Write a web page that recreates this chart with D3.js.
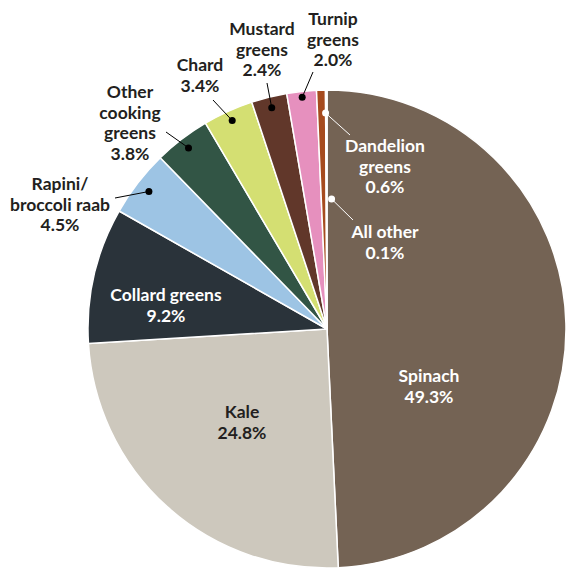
<!DOCTYPE html>
<html>
<head>
<meta charset="utf-8">
<script src="https://cdn.jsdelivr.net/npm/d3@7"></script>
<style>
  html, body { margin: 0; padding: 0; background: #fff; }
  svg { display: block; }
  text { font-family: Lato, "Noto Sans", sans-serif; font-weight: 700; font-size: 17.5px; }
</style>
</head>
<body>
<svg id="chart" width="566" height="573"></svg>
<script>
// Share of leafy greens, clockwise from 12 o'clock
const categories = ["Spinach", "Kale", "Collard greens", "Rapini/broccoli raab", "Other cooking greens",
                    "Chard", "Mustard greens", "Turnip greens", "Dandelion greens", "All other"];
const shares = [49.3, 24.8, 9.2, 4.5, 3.8, 3.4, 2.4, 2.0, 0.6, 0.1];
// Label lines as printed (last line is the value)
const labelLines = [
  ["Spinach"], ["Kale"], ["Collard greens"], ["Rapini/", "broccoli raab"], ["Other", "cooking", "greens"],
  ["Chard"], ["Mustard", "greens"], ["Turnip", "greens"], ["Dandelion", "greens"], ["All other"]
];

const colors = ["#746354", "#cdc8bd", "#2a333a", "#9dc4e4", "#325545",
                "#d4df72", "#61372a", "#e690be", "#a64b1e", "#e3a12a"];

// Label layout: text anchor (first baseline), dot radius, leader end
const layout = [
  { x: 429, y: 382, inside: true, fill: "#fff" },
  { x: 242, y: 418, inside: true, fill: "#231f20" },
  { x: 166, y: 301, inside: true, fill: "#fff" },
  { x: 60,  y: 190, dotR: 225, lx: 115, ly: 198, fill: "#231f20", dot: "#000" },
  { x: 130, y: 98,  dotR: 228, lx: 166, ly: 132, fill: "#231f20", dot: "#000" },
  { x: 200, y: 71,  dotR: 229, lx: 213, ly: 100, fill: "#231f20", dot: "#000" },
  { x: 262, y: 35,  dotR: 228, lx: 267, ly: 83,  fill: "#231f20", dot: "#000" },
  { x: 333, y: 25,  dotR: 233, lx: 313, ly: 72,  fill: "#231f20", dot: "#000" },
  { x: 385, y: 152, dotR: 216, dotDx: 4, lx: 350, ly: 135, fill: "#fff", dot: "#fff" },
  { x: 385, y: 238, dotR: 130, dotDx: 5, lx: 353, ly: 220, fill: "#fff", dot: "#fff" }
];

const cx = 327, cy = 329, radius = 239, lineH = 20.5;

const svg = d3.select("#chart");
const g = svg.append("g").attr("transform", `translate(${cx},${cy})`);

const pie = d3.pie().sort(null).value(d => d.value).startAngle(0).endAngle(2 * Math.PI);
const arcs = pie(categories.map((c, i) => ({ name: c, value: shares[i], i })));
const arc = d3.arc().innerRadius(0).outerRadius(radius);

g.selectAll("path.slice")
  .data(arcs)
  .join("path")
  .attr("class", "slice")
  .attr("d", arc)
  .attr("fill", d => colors[d.data.i])
  .attr("stroke", "#fff")
  .attr("stroke-width", 1.5)
  .attr("stroke-linejoin", "round");

// Leader lines and dots
arcs.forEach(d => {
  const L = layout[d.data.i];
  if (L.inside) return;
  const mid = (d.startAngle + d.endAngle) / 2;
  const px = Math.sin(mid) * L.dotR + (L.dotDx || 0);
  const py = -Math.cos(mid) * L.dotR;
  g.append("line")
    .attr("x1", px).attr("y1", py)
    .attr("x2", L.lx - cx).attr("y2", L.ly - cy)
    .attr("stroke", L.dot).attr("stroke-width", 1);
  g.append("circle")
    .attr("cx", px).attr("cy", py).attr("r", 3.5)
    .attr("fill", L.dot);
});

// Labels
const fmt = d3.format(".1f");
arcs.forEach(d => {
  const i = d.data.i;
  const L = layout[i];
  const lines = labelLines[i].concat([fmt(shares[i]) + "%"]);
  const t = svg.append("text")
    .attr("x", L.x).attr("y", L.y)
    .attr("text-anchor", "middle")
    .attr("fill", L.fill);
  lines.forEach((s, k) => {
    t.append("tspan").attr("x", L.x).attr("y", L.y + k * lineH).text(s);
  });
});
</script>
</body>
</html>
